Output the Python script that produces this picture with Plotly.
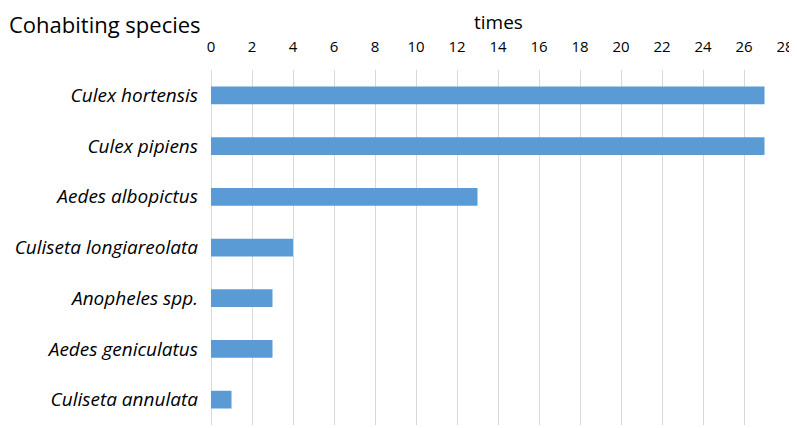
import plotly.graph_objects as go

species = [
    "Culex hortensis",
    "Culex pipiens",
    "Aedes albopictus",
    "Culiseta longiareolata",
    "Anopheles spp.",
    "Aedes geniculatus",
    "Culiseta annulata",
]
times = [27, 27, 13, 4, 3, 3, 1]
tick_vals = list(range(0, 29, 2))

font_family = "'Open Sans', sans-serif"

fig = go.Figure(
    go.Bar(
        y=species,
        x=times,
        orientation="h",
        marker=dict(color="#5b9bd5", line=dict(width=0)),
        width=0.35,
    )
)

# page body has an 8px margin, so the figure is a bit smaller than the window
fig.update_layout(
    width=789,
    height=420,
    margin=dict(l=203, r=12, t=62, b=3),
    plot_bgcolor="white",
    paper_bgcolor="white",
    showlegend=False,
    font=dict(family=font_family, color="#000000"),
    annotations=[
        dict(text="Cohabiting species", x=0, xref="paper", xshift=-204,
             xanchor="left", y=1, yref="paper", yshift=63, yanchor="top",
             showarrow=False, font=dict(size=22, family=font_family)),
        dict(text="times", x=0.5, xref="paper", y=1, yref="paper", yshift=63,
             yanchor="top", showarrow=False, font=dict(size=19, family=font_family)),
    ],
)

fig.update_xaxes(
    side="top",
    range=[0, 28],
    tickvals=tick_vals,
    showgrid=True,
    gridcolor="#d9d9d9",
    gridwidth=1,
    zeroline=True,
    zerolinecolor="#d9d9d9",
    zerolinewidth=1,
    showline=False,
    ticks="",
    tickfont=dict(size=15),
    ticklabelstandoff=14,
    automargin=False,
)
fig.update_yaxes(
    categoryorder="array",
    categoryarray=species[::-1],
    tickvals=species,
    ticktext=[f"<i>{s}</i>" for s in species],
    showgrid=False,
    showline=False,
    ticks="",
    tickfont=dict(size=19),
    ticklabelstandoff=12,
    automargin=False,
)

fig.write_html("out.html")
